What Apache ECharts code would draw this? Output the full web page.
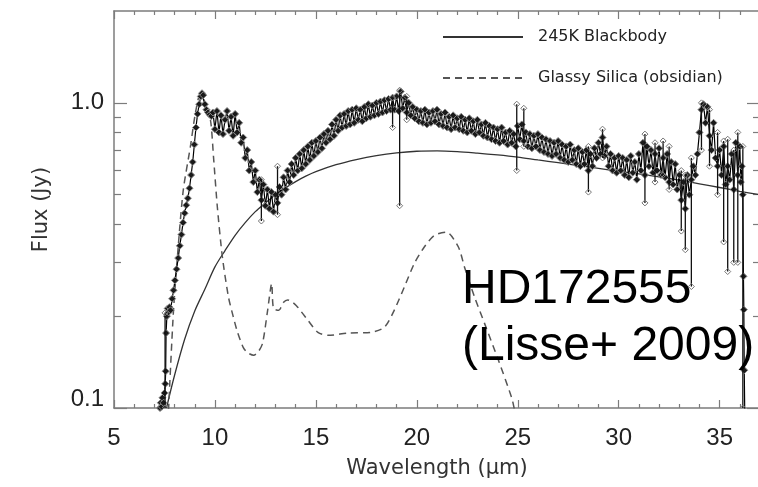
<!DOCTYPE html>
<html>
<head>
<meta charset="utf-8">
<script src="https://cdn.jsdelivr.net/npm/echarts@6/dist/echarts.min.js"></script>
<style>html,body{margin:0;padding:0;background:#fff}#c{width:758px;height:487px}</style>
</head>
<body>
<div id="c"></div>
<script>
// Observed spectrum [wavelength (um), flux (Jy)]
const specData = [
[7.28,0.100],[7.32,0.104],[7.36,0.101],[7.40,0.108],[7.45,0.104],[7.50,0.112],[7.54,0.120],[7.56,0.132],[7.58,0.176],[7.62,0.200],
[7.66,0.212],[7.70,0.206],[7.75,0.214],[7.80,0.209],[7.88,0.228],[7.95,0.243],[8.02,0.262],[8.10,0.285],[8.18,0.310],[8.26,0.340],
[8.34,0.370],[8.42,0.405],[8.50,0.435],[8.58,0.462],[8.66,0.487],[8.74,0.525],[8.82,0.580],[8.90,0.640],[8.98,0.730],[9.06,0.830],
[9.14,0.920],[9.22,0.990],[9.30,1.050],[9.36,1.075],[9.42,1.060],[9.50,0.990],[9.58,0.950],[9.66,0.930],[9.74,0.915],[9.82,0.905],
[9.9,0.93],[10.0,0.82],[10.1,0.94],[10.2,0.80],[10.3,0.91],[10.4,0.79],[10.5,0.88],[10.6,0.94],[10.7,0.81],[10.8,0.90],
[10.9,0.78],[11.0,0.92],[11.1,0.80],[11.2,0.86],[11.3,0.74],[11.4,0.77],[11.5,0.66],[11.6,0.70],[11.7,0.60],[11.8,0.64],
[11.9,0.55],[12.0,0.60],[12.1,0.51],[12.2,0.56],[12.3,0.48],[12.4,0.54],[12.5,0.46],[12.6,0.52],[12.7,0.45],[12.8,0.51],
[12.9,0.44],[13.0,0.50],[13.1,0.47],[13.2,0.53],[13.3,0.50],[13.4,0.57],[13.5,0.52],[13.6,0.60],[13.7,0.55],[13.8,0.63],
[13.9,0.58],[14.0,0.66],[14.1,0.60],[14.2,0.68],[14.3,0.61],[14.4,0.70],[14.5,0.63],[14.6,0.72],[14.7,0.65],[14.8,0.74],
[14.9,0.67],[15.0,0.75],[15.1,0.69],[15.2,0.77],[15.3,0.71],[15.4,0.79],[15.5,0.74],[15.6,0.81],[15.7,0.76],[15.8,0.85],
[15.9,0.78],[16.0,0.88],[16.1,0.81],[16.2,0.91],[16.3,0.83],[16.4,0.92],[16.5,0.84],[16.6,0.94],[16.7,0.85],[16.8,0.95],
[16.9,0.86],[17.0,0.96],[17.1,0.88],[17.2,0.95],[17.3,0.87],[17.4,0.97],[17.5,0.89],[17.6,0.99],[17.7,0.90],[17.8,0.98],
[17.9,0.91],[18.0,1.00],[18.1,0.92],[18.2,1.01],[18.3,0.93],[18.4,1.02],[18.5,0.94],[18.6,1.03],[18.7,0.95],[18.8,1.04],
[18.9,0.95],[19.0,1.05],[19.1,0.94],[19.2,1.09],[19.3,0.96],[19.4,1.04],[19.5,0.93],[19.6,1.00],[19.7,0.91],[19.8,0.97],
[19.9,0.89],[20.0,0.95],[20.1,0.87],[20.2,0.94],[20.3,0.86],[20.4,0.95],[20.5,0.85],[20.6,0.93],[20.7,0.86],[20.8,0.94],
[20.9,0.87],[21.0,0.95],[21.1,0.85],[21.2,0.92],[21.3,0.84],[21.4,0.93],[21.5,0.83],[21.6,0.90],[21.7,0.82],[21.8,0.91],
[21.9,0.83],[22.0,0.89],[22.1,0.82],[22.2,0.90],[22.3,0.81],[22.4,0.88],[22.5,0.80],[22.6,0.89],[22.7,0.81],[22.8,0.87],
[22.9,0.79],[23.0,0.88],[23.1,0.80],[23.2,0.85],[23.3,0.78],[23.4,0.86],[23.5,0.77],[23.6,0.84],[23.7,0.76],[23.8,0.83],
[23.9,0.75],[24.0,0.82],[24.1,0.74],[24.2,0.83],[24.3,0.75],[24.4,0.80],[24.5,0.73],[24.6,0.81],[24.7,0.74],[24.8,0.79],
[24.9,0.72],[25.0,0.84],[25.1,0.76],[25.2,0.85],[25.3,0.75],[25.4,0.80],[25.5,0.72],[25.6,0.79],[25.7,0.71],[25.8,0.78],
[25.9,0.72],[26.0,0.79],[26.1,0.70],[26.2,0.77],[26.3,0.69],[26.4,0.76],[26.5,0.68],[26.6,0.75],[26.7,0.67],[26.8,0.74],
[26.9,0.68],[27.0,0.75],[27.1,0.66],[27.2,0.73],[27.3,0.65],[27.4,0.72],[27.5,0.64],[27.6,0.73],[27.7,0.65],[27.8,0.70],
[27.9,0.63],[28.0,0.71],[28.1,0.62],[28.2,0.69],[28.3,0.63],[28.4,0.70],[28.5,0.60],[28.6,0.68],[28.7,0.62],[28.8,0.71],
[28.9,0.66],[29.0,0.74],[29.1,0.68],[29.2,0.77],[29.3,0.67],[29.4,0.72],[29.5,0.62],[29.6,0.68],[29.7,0.60],[29.8,0.66],
[29.9,0.59],[30.0,0.67],[30.1,0.60],[30.2,0.66],[30.3,0.58],[30.4,0.65],[30.5,0.57],[30.6,0.67],[30.7,0.59],[30.8,0.64],
[30.9,0.56],[31.0,0.68],[31.1,0.60],[31.2,0.74],[31.3,0.58],[31.4,0.72],[31.5,0.62],[31.6,0.70],[31.7,0.59],[31.8,0.68],
[31.9,0.60],[32.0,0.71],[32.1,0.58],[32.2,0.66],[32.3,0.57],[32.4,0.68],[32.5,0.55],[32.6,0.64],[32.7,0.54],[32.8,0.63],
[32.9,0.52],[33.0,0.58],[33.1,0.48],[33.2,0.55],[33.3,0.45],[33.4,0.58],[33.5,0.50],[33.6,0.56],[33.7,0.62],[33.8,0.58],
[33.9,0.68],[34.0,0.80],[34.1,0.95],[34.2,0.99],[34.3,0.86],[34.4,0.97],[34.5,0.78],[34.6,0.70],[34.7,0.86],[34.8,0.66],
[34.9,0.62],[35.0,0.70],[35.1,0.58],[35.2,0.72],[35.3,0.54],[35.4,0.62],[35.5,0.56],[35.6,0.68],[35.7,0.52],[35.8,0.74],
[35.9,0.58],[36.0,0.72],[36.05,0.55],[36.1,0.62],[36.15,0.50],[36.18,0.27],[36.2,0.21],[36.22,0.133],[36.25,0.09]
];
// Error bars [wavelength, low, high]
const errData = [
[7.53,0.100,0.205],[12.3,0.41,0.56],[13.1,0.43,0.62],[18.8,0.83,1.04],[19.15,0.46,1.10],[19.5,0.88,1.05],
[24.95,0.60,0.99],[25.3,0.72,0.96],[28.5,0.51,0.72],[29.2,0.66,0.82],[31.3,0.47,0.79],[31.8,0.55,0.74],
[32.2,0.58,0.75],[32.5,0.52,0.72],[33.1,0.38,0.60],[33.3,0.33,0.58],[33.6,0.25,0.66],[34.1,0.70,1.00],
[34.5,0.62,0.95],[34.9,0.50,0.80],[35.2,0.35,0.75],[35.4,0.28,0.76],[35.7,0.30,0.70],[35.9,0.30,0.80],[36.15,0.10,0.72]
];
// 245K blackbody model
const bbData = [
[7.6,0.100],[8.0,0.128],[8.5,0.168],[9.0,0.208],[9.5,0.245],[10.0,0.290],[10.5,0.328],[11.0,0.368],[11.5,0.405],[12.0,0.440],
[12.5,0.470],[13.0,0.500],[13.5,0.527],[14.0,0.552],[14.5,0.575],[15.0,0.595],[16.0,0.627],[17.0,0.652],[18.0,0.672],[19.0,0.686],
[20.0,0.694],[21.0,0.696],[22.0,0.692],[23.0,0.684],[24.0,0.675],[25.0,0.664],[26.0,0.650],[27.0,0.637],[28.0,0.623],[29.0,0.610],
[30.0,0.597],[31.0,0.585],[32.0,0.572],[33.0,0.558],[34.0,0.543],[35.0,0.528],[36.0,0.513],[37.0,0.500]
];
// Glassy silica (obsidian) model
const silData = [
[7.7,0.098],[7.94,0.205],[8.18,0.337],[8.43,0.517],[8.78,0.716],[9.03,0.924],[9.28,1.075],[9.5,1.0],[9.78,0.877],[9.93,0.664],
[10.12,0.455],[10.37,0.312],[10.67,0.231],[10.9,0.20],[11.12,0.177],[11.4,0.158],[11.6,0.152],[11.92,0.149],[12.15,0.153],[12.36,0.163],
[12.61,0.209],[12.81,0.256],[12.9,0.212],[13.16,0.209],[13.4,0.222],[13.6,0.226],[13.85,0.222],[14.1,0.214],[14.6,0.194],[15.1,0.177],
[15.6,0.173],[16.6,0.176],[17.74,0.177],[18.4,0.184],[18.88,0.209],[19.38,0.249],[19.88,0.298],[20.37,0.337],[20.87,0.368],[21.47,0.377],
[22.06,0.337],[22.36,0.29],[22.86,0.231],[23.36,0.189],[24.05,0.143],[24.7,0.108],[24.85,0.098],[25.0,0.09]
];
const seriesNames = ['245K Blackbody', 'Glassy Silica (obsidian)'];
const xMajorTicks = [5,10,15,20,25,30,35];
const xMinorTicks = [6,7,8,9,11,12,13,14,16,17,18,19,21,22,23,24,26,27,28,29,31,32,33,34,36];
const yMajorTicks = [0.1, 1.0];
const yMinorTicks = [0.2,0.3,0.4,0.5,0.6,0.7,0.8,0.9];
const xRange = [5, 37];
const yRange = [0.1, 2];

const L = v => Math.log10(v);
const AX = '#7c7c7c';
const tickFont = {fontSize:24, fontFamily:'Liberation Sans', color:'#222'};

function xAx(pos, ticks, len, main) {
  return {
    type:'value', position:pos, min:xRange[0], max:xRange[1],
    axisLine:{show:main, onZero:false, lineStyle:{color:AX, width:1.5}},
    axisTick:{show:true, inside:true, length:len, customValues:ticks, lineStyle:{color:AX, width:1.2}},
    axisLabel: (main && pos==='bottom') ? Object.assign({show:true, customValues:ticks, margin:18}, tickFont) : {show:false},
    splitLine:{show:false},
    name: (main && pos==='bottom') ? 'Wavelength (μm)' : '',
    nameLocation:'middle', nameGap:50,
    nameTextStyle:{fontFamily:'DejaVu Sans', fontSize:21, color:'#333'}
  };
}
function yAx(pos, ticks, len, main) {
  const tv = ticks.map(L);
  return {
    type:'value', position:pos, min:L(yRange[0]), max:L(yRange[1]),
    axisLine:{show:main, onZero:false, lineStyle:{color:AX, width:1.5}},
    axisTick:{show:true, inside:true, length:len, customValues:tv, lineStyle:{color:AX, width:1.2}},
    axisLabel: (main && pos==='left') ? Object.assign({show:true, customValues:tv, margin:10,
      formatter: v => { const s = Math.pow(10, v).toFixed(1); return v < -0.5 ? '{lo|' + s + '}' : s; },
      rich:{lo:Object.assign({padding:[0,0,17,0]}, tickFont)}}, tickFont) : {show:false},
    splitLine:{show:false},
    name: (main && pos==='left') ? 'Flux (Jy)' : '',
    nameLocation:'middle', nameGap:62, nameRotate:90,
    nameTextStyle:{fontFamily:'DejaVu Sans', fontSize:21, color:'#333'}
  };
}

const chart = echarts.init(document.getElementById('c'), null, {renderer:'canvas'});
chart.setOption({
  animation:false,
  backgroundColor:'#fff',
  grid:{left:114, right:-2, top:11, bottom:79, containLabel:false, outerBoundsMode:'none'},
  xAxis:[xAx('bottom', xMajorTicks, 8, true), xAx('bottom', xMinorTicks, 4, false),
         xAx('top', xMajorTicks, 8, true), xAx('top', xMinorTicks, 4, false)],
  yAxis:[yAx('left', yMajorTicks, 13, true), yAx('left', yMinorTicks, 7, false),
         yAx('right', yMajorTicks, 13, true), yAx('right', yMinorTicks, 7, false)],
  legend:{
    data:seriesNames, orient:'vertical', left:437, top:24, itemWidth:80, itemHeight:14, itemGap:25,
    selectedMode:false,
    itemStyle:{color:'rgba(0,0,0,0)', borderColor:'rgba(0,0,0,0)', borderWidth:0, opacity:0},
    textStyle:{fontFamily:'DejaVu Sans', fontSize:16, color:'#222', padding:[0,0,0,10]}
  },
  graphic:[{
    type:'text', left:462, top:261, z:100,
    style:{text:'HD172555\n(Lisse+ 2009)', font:'48px "Liberation Sans"', lineHeight:57, fill:'#000'}
  }],
  series:[
    {
      name:seriesNames[0], type:'line', smooth:0.3, symbol:'none',
      data:bbData.map(d => [d[0], L(d[1])]),
      lineStyle:{color:'#333', width:1.3}, itemStyle:{color:'#333'}, z:2, silent:true
    },
    {
      name:seriesNames[1], type:'line', smooth:0.25, symbol:'none',
      data:silData.map(d => [d[0], L(d[1])]),
      lineStyle:{color:'#555', width:1.5, type:[7,5]}, itemStyle:{color:'#555'}, z:2, silent:true
    },
    {
      name:'spectrum', type:'line', symbol:'diamond', symbolSize:7, showSymbol:true,
      data:specData.map(d => [d[0], L(d[1])]),
      lineStyle:{color:'#000', width:1.2}, itemStyle:{color:'#1a1a1a', borderColor:'#8a8a8a', borderWidth:1},
      z:3, silent:true
    },
    {
      name:'errors', type:'custom', clip:true, z:4, silent:true,
      data:errData.map(d => [d[0], L(d[1]), L(d[2])]),
      encode:{x:0, y:[1,2]},
      renderItem:function(params, api){
        const p1 = api.coord([api.value(0), api.value(1)]);
        const p2 = api.coord([api.value(0), api.value(2)]);
        const d = 3;
        const dia = p => ({type:'polygon', shape:{points:[[p[0],p[1]-d],[p[0]+d,p[1]],[p[0],p[1]+d],[p[0]-d,p[1]]]},
          style:{fill:'none', stroke:'#777', lineWidth:1}});
        return {type:'group', children:[
          {type:'line', shape:{x1:p1[0], y1:p1[1], x2:p2[0], y2:p2[1]}, style:{stroke:'#111', lineWidth:1.3}},
          dia(p1), dia(p2)
        ]};
      }
    }
  ]
});
</script>
</body>
</html>
